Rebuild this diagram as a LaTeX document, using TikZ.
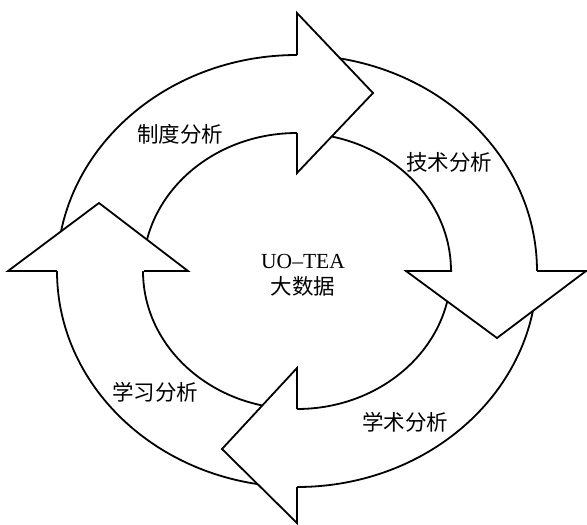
\documentclass[tikz,border=0pt]{standalone}
\usepackage{fontspec}
\setmainfont{Liberation Serif}
\newfontfamily\cjk{Noto Sans CJK SC}
\begin{document}
\begin{tikzpicture}[x=1pt,y=-1pt,
  ring/.style={line width=1.8pt, black},
  headfill/.style={fill=white, draw=none},
  headline/.style={line width=1.8pt, black, line join=miter},
  lbl/.style={font=\cjk\fontsize{21.5}{26}\selectfont, inner sep=0pt}]
\useasboundingbox (0,0) rectangle (587,525);
% centre and ring
\coordinate (c) at (297,271);
\draw[ring] (c) ellipse [x radius=240, y radius=216];
\draw[ring] (c) ellipse [x radius=154, y radius=138];
% top head (pointing right)
\coordinate (t1) at (297,55);  \coordinate (t2) at (297,13);
\coordinate (tt) at (373,93);  \coordinate (t3) at (297,173);
\coordinate (t4) at (297,133);
\fill[headfill] (t2) -- (tt) -- (t3) -- cycle;
\draw[headline] (t1) -- (t2) -- (tt) -- (t3) -- (t4);
% right head (pointing down)
\coordinate (r1) at (537,271); \coordinate (r2) at (586,271);
\coordinate (rt) at (497,338); \coordinate (r3) at (406,271);
\coordinate (r4) at (452,271);
\fill[headfill] (r2) -- (rt) -- (r3) -- cycle;
\draw[headline] (r1) -- (r2) -- (rt) -- (r3) -- (r4);
% bottom head (pointing left)
\coordinate (b1) at (297,487); \coordinate (b2) at (297,523);
\coordinate (bt) at (222,449); \coordinate (b3) at (297,368);
\coordinate (b4) at (297,409);
\fill[headfill] (b2) -- (bt) -- (b3) -- cycle;
\draw[headline] (b1) -- (b2) -- (bt) -- (b3) -- (b4);
% left head (pointing up)
\coordinate (l1) at (57,271);  \coordinate (l2) at (8,271);
\coordinate (lt) at (99,203);  \coordinate (l3) at (188,271);
\coordinate (l4) at (144,271);
\fill[headfill] (l2) -- (lt) -- (l3) -- cycle;
\draw[headline] (l1) -- (l2) -- (lt) -- (l3) -- (l4);
% labels
\node[lbl] (zd) at (180,134) {制度分析};
\node[lbl] (js) at (449,162) {技术分析};
\node[lbl] (xs) at (405,422) {学术分析};
\node[lbl] (xx) at (155,392) {学习分析};
\node[inner sep=0pt, align=center, font=\fontsize{21.5}{26}\selectfont] (mid) at (303,275)
  {UO–TEA\\{\cjk 大数据}};
\end{tikzpicture}
\end{document}
